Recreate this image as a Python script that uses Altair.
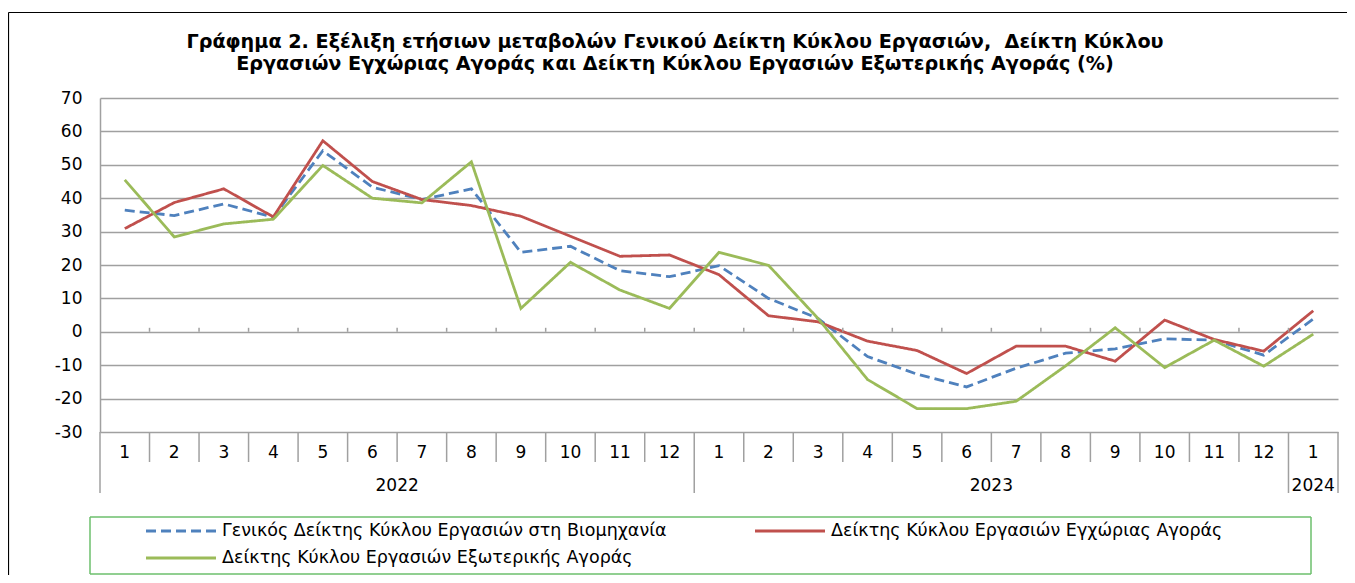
import altair as alt
import pandas as pd

# ---- data ----
months = [1, 2, 3, 4, 5, 6, 7, 8, 9, 10, 11, 12,
          1, 2, 3, 4, 5, 6, 7, 8, 9, 10, 11, 12,
          1]
years = ["2022"] * 12 + ["2023"] * 12 + ["2024"]

general = [36.4, 34.8, 38.3, 34.3, 54.2, 43.3, 39.6, 42.8, 23.8, 25.6, 18.3, 16.5,
           19.8, 10.0, 4.0, -7.4, -12.7, -16.5, -10.9, -6.4, -5.1, -2.1, -2.5, -7.0,
           3.8]
domestic = [30.9, 38.7, 42.8, 34.4, 57.2, 45.0, 39.6, 37.8, 34.6, 28.6, 22.6, 23.0,
            17.1, 4.8, 3.0, -2.8, -5.6, -12.5, -4.3, -4.3, -8.8, 3.5, -2.3, -5.8,
            6.3]
foreign = [45.5, 28.4, 32.3, 33.7, 49.8, 40.0, 38.6, 50.9, 7.0, 20.8, 12.5, 7.0,
           23.8, 19.9, 4.0, -14.3, -23.0, -23.0, -20.8, -10.2, 1.2, -10.7, -2.5, -10.3,
           -0.7]

series_names = [
    "Γενικός Δείκτης Κύκλου Εργασιών στη Βιομηχανία",
    "Δείκτης Κύκλου Εργασιών Εγχώριας Αγοράς",
    "Δείκτης Κύκλου Εργασιών Εξωτερικής Αγοράς",
]
series_colors = ["#4F81BD", "#C0504D", "#9BBB59"]
series_dashes = [[10, 5], [1, 0], [1, 0]]

title_lines = [
    "Γράφημα 2. Εξέλιξη ετήσιων μεταβολών Γενικού Δείκτη Κύκλου Εργασιών,  Δείκτη Κύκλου",
    "Εργασιών Εγχώριας Αγοράς και Δείκτη Κύκλου Εργασιών Εξωτερικής Αγοράς (%)",
]
y_ticks = [-30, -20, -10, 0, 10, 20, 30, 40, 50, 60, 70]

FONT = "DejaVu Sans"
GRID = "#a0a0a0"
LABEL_SIZE = 17
TITLE_SIZE = 19.2

# ---- tables built from the lists ----
rows = []
for name, vals in zip(series_names, [general, domestic, foreign]):
    for i, v in enumerate(vals):
        rows.append({"pos": i + 0.5, "value": v, "series": name})
df = pd.DataFrame(rows)

month_df = pd.DataFrame({"pos": [i + 0.5 for i in range(len(months))],
                         "label": [str(m) for m in months]})

year_order = []
for y in years:
    if y not in year_order:
        year_order.append(y)
year_rows = []
start = 0
for y in year_order:
    n = years.count(y)
    year_rows.append({"pos": start + n / 2, "label": y})
    start += n
year_df = pd.DataFrame(year_rows)

year_bounds = [0]
for i in range(1, len(years)):
    if years[i] != years[i - 1]:
        year_bounds.append(i)
year_bounds.append(len(years))
all_bounds = list(range(len(months) + 1))
short_df = pd.DataFrame({"b": [b for b in all_bounds if b not in year_bounds]})
long_df = pd.DataFrame({"b": year_bounds})
inner_df = pd.DataFrame({"b": all_bounds[1:-1], "zero": [0] * (len(all_bounds) - 2)})
one = pd.DataFrame({"k": [0]})

xscale = alt.Scale(domain=[0, len(months)], nice=False, zero=False)
yscale = alt.Scale(domain=[y_ticks[0], y_ticks[-1]], nice=False, zero=False)
yaxis = alt.Axis(
    values=y_ticks, grid=True, gridColor=GRID, gridWidth=1.5,
    domain=True, domainColor=GRID, domainWidth=1.5, ticks=False,
    labelExpr="'' + datum.value",
    labelPadding=18, labelFont=FONT, labelFontSize=LABEL_SIZE, labelColor="black",
    title=None)

lines = alt.Chart(df).mark_line(strokeWidth=2.8).encode(
    x=alt.X("pos:Q", scale=xscale, axis=None),
    y=alt.Y("value:Q", scale=yscale, axis=yaxis),
    color=alt.Color("series:N", scale=alt.Scale(domain=series_names, range=series_colors),
                    legend=None),
    strokeDash=alt.StrokeDash("series:N", scale=alt.Scale(domain=series_names, range=series_dashes),
                              legend=None),
)

zero_ticks = alt.Chart(inner_df).mark_rule(color=GRID, strokeWidth=1.5, y2Offset=-4).encode(
    x=alt.X("b:Q", scale=xscale, axis=None),
    y=alt.Y("zero:Q", scale=yscale, axis=yaxis),
    y2=alt.Y2("zero:Q"))

month_text = alt.Chart(month_df).mark_text(
    font=FONT, fontSize=LABEL_SIZE, color="black", baseline="middle", align="center"
).encode(x=alt.X("pos:Q", scale=xscale, axis=None), y=alt.value(355), text="label:N")

year_text = alt.Chart(year_df).mark_text(
    font=FONT, fontSize=LABEL_SIZE, color="black", baseline="middle", align="center"
).encode(x=alt.X("pos:Q", scale=xscale, axis=None), y=alt.value(388), text="label:N")

short_sep = alt.Chart(short_df).mark_rule(color=GRID, strokeWidth=1.5).encode(
    x=alt.X("b:Q", scale=xscale, axis=None), y=alt.value(334), y2=alt.value(364))

long_sep = alt.Chart(long_df).mark_rule(color=GRID, strokeWidth=1.5).encode(
    x=alt.X("b:Q", scale=xscale, axis=None), y=alt.value(334), y2=alt.value(395))

# ---- title (two centred lines; keep the double space visible) ----
title_layers = []
for line, ypos in zip(title_lines, [-50, -28]):
    title_layers.append(
        alt.Chart(one).mark_text(font=FONT, fontSize=TITLE_SIZE, fontWeight="bold", color="black",
                                 align="center", baseline="alphabetic").encode(
            x=alt.value(575), y=alt.value(ypos), text=alt.value(line.replace("  ", " \u00a0"))))

# ---- legend (drawn by hand) ----
legend_layers = []
sym_x = [46, 655, 46]
sym_y = [433, 433, 460]
for i, name in enumerate(series_names):
    legend_layers.append(
        alt.Chart(one).mark_rule(color=series_colors[i], strokeWidth=3,
                                 strokeDash=series_dashes[i]).encode(
            x=alt.value(sym_x[i]), x2=alt.value(sym_x[i] + 70), y=alt.value(sym_y[i])))
    legend_layers.append(
        alt.Chart(one).mark_text(font=FONT, fontSize=17.5, color="black",
                                 align="left", baseline="middle").encode(
            x=alt.value(sym_x[i] + 76), y=alt.value(sym_y[i]), text=alt.value(name)))

box_style = dict(color="#6cbf6c", strokeWidth=1.5)
legend_box = [
    alt.Chart(one).mark_rule(**box_style).encode(x=alt.value(-10), x2=alt.value(1211), y=alt.value(419)),
    alt.Chart(one).mark_rule(**box_style).encode(x=alt.value(-10), x2=alt.value(1211), y=alt.value(476)),
    alt.Chart(one).mark_rule(**box_style).encode(x=alt.value(-10), y=alt.value(419), y2=alt.value(476)),
    alt.Chart(one).mark_rule(**box_style).encode(x=alt.value(1211), y=alt.value(419), y2=alt.value(476)),
]
outer_box = [
    alt.Chart(one).mark_rule(color="black", strokeWidth=1.2).encode(
        x=alt.value(-91.5), y=alt.value(-85.5), y2=alt.value(700)),
    alt.Chart(one).mark_rule(color="black", strokeWidth=1.2).encode(
        x=alt.value(-91.5), x2=alt.value(1400), y=alt.value(-85.5)),
]

chart = alt.layer(
    lines, zero_ticks, *outer_box, short_sep, long_sep, month_text, year_text,
    *title_layers, *legend_box, *legend_layers
).properties(
    width=1238, height=334,
    padding={"left": 92, "top": 90, "right": 9, "bottom": 143},
    autosize=alt.AutoSizeParams(type="none"),
).configure_view(stroke=None)

chart.save("out.html", embed_options={"renderer": "svg", "actions": False})
